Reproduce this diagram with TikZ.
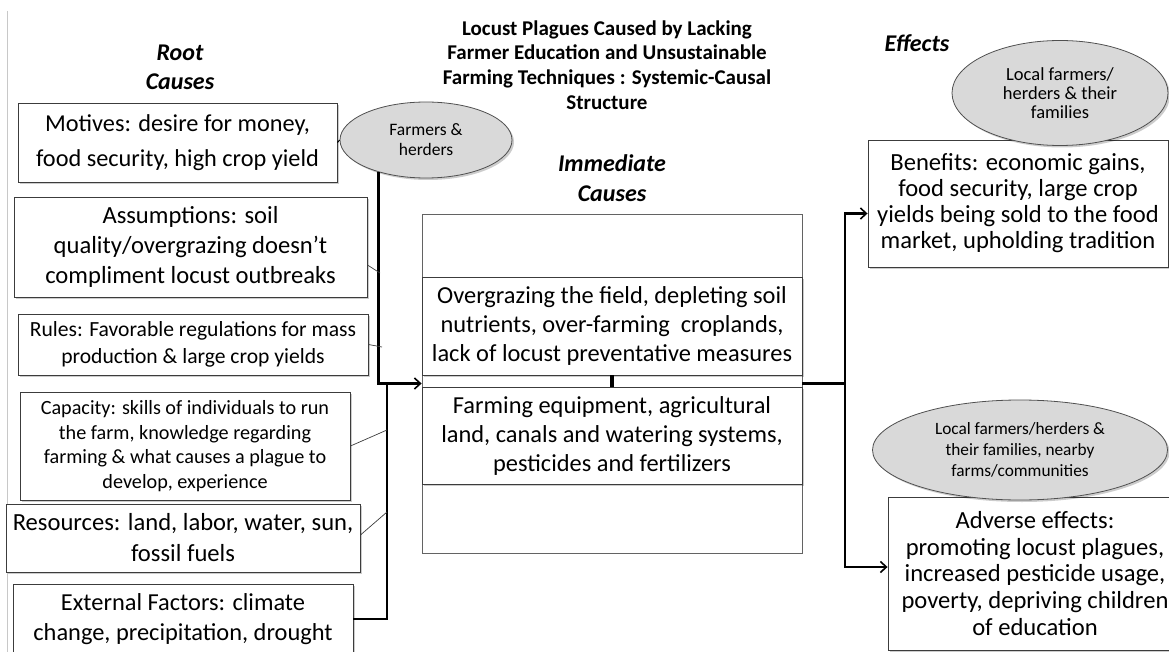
\documentclass[tikz,border=0pt]{standalone}
\usepackage{fontspec}
\setmainfont{Carlito}
\usetikzlibrary{arrows.meta,shadows,shapes.geometric}
\newcommand\setfs[2]{\fontsize{#1}{#2}\selectfont}
\definecolor{boxline}{HTML}{3C3C3C}
\definecolor{ellfill}{HTML}{D9D9D9}
\definecolor{pagegray}{HTML}{C8C8C8}
\begin{document}
\begin{tikzpicture}[x=1pt,y=-1pt,
  softshadow/.style={drop shadow={shadow xshift=2pt,shadow yshift=-2pt,fill=black,opacity=0.2}},
  box/.style={draw=boxline,line width=0.9pt,fill=white,align=center,inner sep=0pt,softshadow},
  frame/.style={draw=boxline!80,line width=0.8pt,inner sep=0pt},
  oval/.style={ellipse,draw=boxline!90,line width=0.8pt,fill=ellfill,align=center,inner sep=0pt,softshadow},
  heading/.style={align=center,font=\bfseries\itshape\setfs{24}{29}},
  thickline/.style={line width=2.4pt,black},
  arr/.style={line width=2.4pt,black,-{Straight Barb[length=6pt,width=11pt,line width=1.6pt]}},
  thinline/.style={line width=0.7pt,boxline}]
\useasboundingbox (0,0) rectangle (1169,652);
\clip (0,0) rectangle (1169,652);

% page margin rule
\draw[pagegray,line width=1pt] (7.7,11) -- (7.7,652);

% headings
\node[align=center,font=\bfseries\setfs{21}{24.7}] (title) at (607,65)
  {Locust Plagues Caused by Lacking\\Farmer Education and Unsustainable\\Farming Techniques : Systemic-Causal\\Structure};
\node[heading] (hroot) at (180,67.5) {Root\\Causes};
\node[heading,font=\bfseries\itshape\setfs{24}{30}] (himm) at (612,178) {Immediate\\Causes};
\node[heading] (heff) at (917,43) {Effects};

% root causes
\node[box,minimum width=319,minimum height=79,font=\setfs{24.3}{35}] (mot) at (177.5,142.5)
  {Motives: desire for money,\\food security, high crop yield};
\node[box,minimum width=353,minimum height=100,font=\setfs{24.6}{30}] (ass) at (190.5,247)
  {Assumptions: soil\\quality/overgrazing doesn’t\\compliment locust outbreaks};
\node[box,minimum width=350,minimum height=61,font=\setfs{21.6}{27}] (rul) at (193,344.5)
  {Rules: Favorable regulations for mass\\production \& large crop yields};
\node[box,minimum width=330,minimum height=108,font=\setfs{20.2}{24.5}] (cap) at (185,446)
  {Capacity: skills of individuals to run\\the farm, knowledge regarding\\farming \& what causes a plague to\\develop, experience};
\node[box,minimum width=354,minimum height=68,font=\setfs{24.6}{31}] (res) at (183,538)
  {Resources: land, labor, water, sun,\\fossil fuels};
\node[box,minimum width=340,minimum height=70,font=\setfs{24.4}{30}] (ext) at (183,619)
  {External Factors: climate\\change, precipitation, drought};

% stakeholders of the root causes
\node[oval,minimum width=172,minimum height=76,font=\setfs{17.5}{20}] (farm) at (426,140)
  {Farmers \&\\herders};

% immediate causes
\node[frame,minimum width=380,minimum height=339] (imm) at (612,383.5) {};
\node[box,minimum width=380,minimum height=98,font=\setfs{24.4}{29}] (over) at (612,326)
  {Overgrazing the field, depleting soil\\nutrients, over-farming\ \ croplands,\\lack of locust preventative measures};
\node[box,minimum width=380,minimum height=97,font=\setfs{24.4}{29}] (equip) at (612,435.5)
  {Farming equipment, agricultural\\land, canals and watering systems,\\pesticides and fertilizers};

% effects
\node[box,minimum width=300,minimum height=127,font=\setfs{24.6}{26}] (ben) at (1018,203.5)
  {Benefits: economic gains,\\food security, large crop\\yields being sold to the food\\market, upholding tradition};
\node[box,minimum width=294,minimum height=153,font=\setfs{24.6}{26.8}] (adv) at (1035,573.5)
  {Adverse effects:\\promoting locust plagues,\\increased pesticide usage,\\poverty, depriving children\\of education};
\node[oval,minimum width=216,minimum height=105,font=\setfs{18.5}{19}] (locA) at (1060,93)
  {Local farmers/\\herders \& their\\families};
\node[oval,minimum width=295,minimum height=100,font=\setfs{17.3}{21}] (locB) at (1020,450)
  {Local farmers/herders \&\\their families, nearby\\farms/communities};

% junction points on the collecting lines
\coordinate (jl) at (387,383.5);
\coordinate (jr) at (845,383.5);
\coordinate (ta) at (380,273);
\coordinate (tb) at (382,347);
\coordinate (tc) at (387,430);
\coordinate (td) at (387,512);

% left side: causes feed into the immediate causes
\draw[line width=1pt] (mot.east) -- (farm.west);
\draw[arr] (farm.214) |- (imm.west);
\draw[thickline] (ext.east) -| (jl);
\draw[thinline] ([yshift=-18pt]ass.east) -- (ta);
\draw[thinline] (rul.east) -- (tb);
\draw[thinline] (cap.east) -- (tc);
\draw[thinline] ([yshift=3pt]res.east) -- (td);

% link between the two immediate-cause boxes
\draw[line width=4pt] (over.south) -- (equip.north);

% right side: immediate causes lead to the effects
\draw[thickline] (imm.east) -- (jr);
\draw[arr] (jr) |- ([yshift=-10pt]ben.west);
\draw[arr] (jr) |- ([yshift=6.5pt]adv.west);
\end{tikzpicture}
\end{document}
